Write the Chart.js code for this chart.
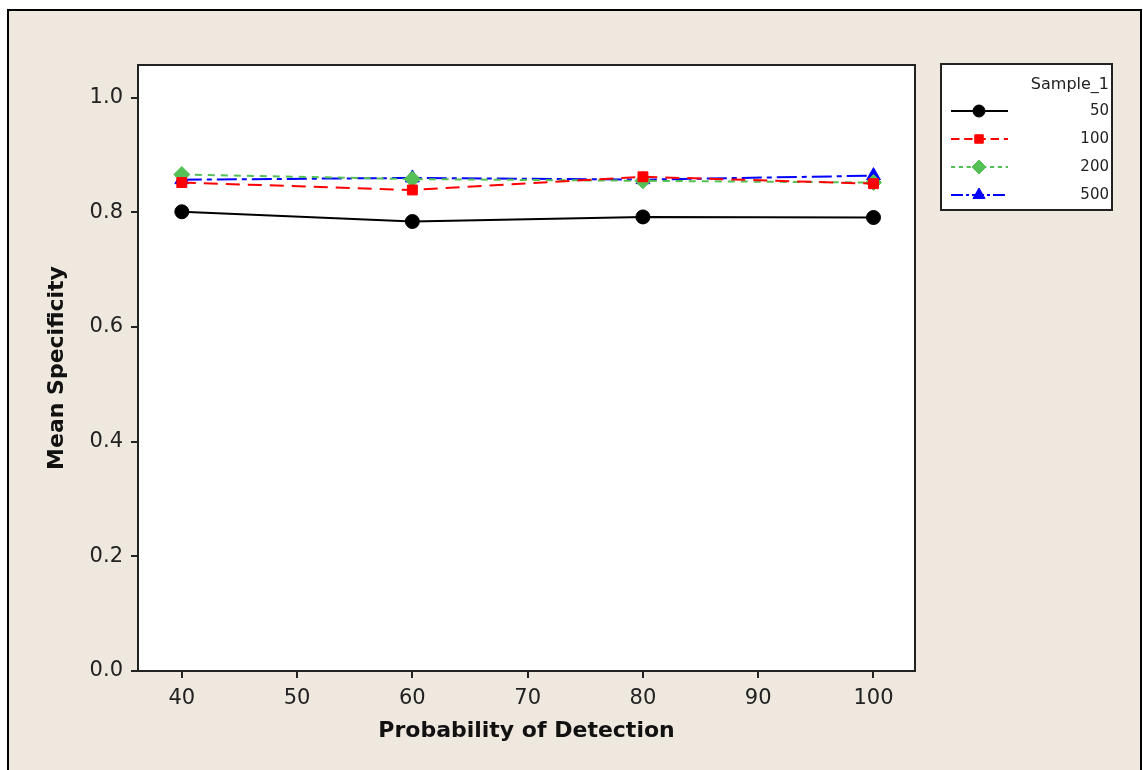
<!DOCTYPE html>
<html lang="en">
<head>
    <meta charset="UTF-8">
    <title>Mean Specificity</title>
    <script src="https://cdn.jsdelivr.net/npm/chart.js"></script>
    <style>
        html, body { margin: 0; padding: 0; background: #fff; }
        .janela { width: 1143px; height: 770px; }
    </style>
</head>
<body>
    <div class="janela">
        <canvas id="myChart"></canvas>
    </div>

<script>
    // dados
    var probabilidade = [40, 60, 80, 100];
    var amostras = ['50', '100', '200', '500'];
    var espec50 = [0.801, 0.784, 0.792, 0.791];
    var espec100 = [0.852, 0.839, 0.862, 0.850];
    var espec200 = [0.866, 0.858, 0.855, 0.852];
    var espec500 = [0.857, 0.860, 0.857, 0.864];
    var ticksX = [40, 50, 60, 70, 80, 90, 100];
    var ticksY = [0.0, 0.2, 0.4, 0.6, 0.8, 1.0];

    var cores = ['#000000', '#ff0000', '#55c055', '#0000ff'];
    var marcadores = ['circle', 'rect', 'rectRot', 'triangle'];
    var tracos = [[], [14, 8], [7, 6], [20, 5, 5, 5]];
    var raios = [7, 7, 8, 8];
    var series = [espec50, espec100, espec200, espec500];

    var bege = '#eee8df';

    function pontos(valores) {
        var p = [];
        for (var i = 0; i < probabilidade.length; i++) {
            p.push({ x: probabilidade[i], y: valores[i] });
        }
        return p;
    }

    var datasets = [];
    for (var i = 0; i < amostras.length; i++) {
        datasets.push({
            label: amostras[i],
            data: pontos(series[i]),
            borderColor: cores[i],
            backgroundColor: cores[i],
            borderWidth: 2,
            borderDash: tracos[i],
            pointStyle: marcadores[i],
            pointRadius: raios[i],
            pointBorderWidth: 1,
            fill: false,
            tension: 0
        });
    }

    // fundo, moldura e borda da area do grafico
    var moldura = {
        id: 'moldura',
        beforeDraw: function (chart) {
            var ctx = chart.ctx;
            var a = chart.chartArea;
            ctx.save();
            ctx.fillStyle = '#ffffff';
            ctx.fillRect(0, 0, chart.width, chart.height);
            ctx.fillStyle = bege;
            ctx.fillRect(9, 11, chart.width - 11, chart.height);
            ctx.strokeStyle = '#000';
            ctx.lineWidth = 2;
            ctx.strokeRect(8, 10, chart.width - 10, chart.height + 10);
            ctx.fillStyle = '#ffffff';
            ctx.fillRect(a.left, a.top, a.right - a.left, a.bottom - a.top);
            ctx.restore();
        },
        afterDraw: function (chart) {
            var ctx = chart.ctx;
            var a = chart.chartArea;
            ctx.save();
            ctx.strokeStyle = '#222';
            ctx.lineWidth = 2;
            ctx.strokeRect(a.left, a.top, a.right - a.left, a.bottom - a.top);

            // legenda no estilo do Minitab
            var lx = 941, ly = 64, lw = 171, lh = 146;
            ctx.fillStyle = '#fff';
            ctx.fillRect(lx, ly, lw, lh);
            ctx.strokeStyle = '#222';
            ctx.lineWidth = 2;
            ctx.strokeRect(lx, ly, lw, lh);
            ctx.fillStyle = '#222';
            ctx.textAlign = 'right';
            ctx.textBaseline = 'middle';
            ctx.font = '16px "DejaVu Sans"';
            ctx.fillText('Sample_1', 1109, 85);
            ctx.font = '15px "DejaVu Sans"';
            chart.data.datasets.forEach(function (ds, i) {
                var y = 111 + i * 28;
                ctx.strokeStyle = ds.borderColor;
                ctx.lineWidth = 2;
                ctx.setLineDash(ds.borderDash.length ? ds.borderDash.map(function (d) { return d * 0.6; }) : []);
                ctx.beginPath();
                ctx.moveTo(951, y);
                ctx.lineTo(1008, y);
                ctx.stroke();
                ctx.setLineDash([]);
                ctx.fillStyle = ds.backgroundColor;
                ctx.strokeStyle = ds.borderColor;
                ctx.lineWidth = 1;
                Chart.helpers.drawPoint(ctx, {
                    pointStyle: ds.pointStyle,
                    radius: ds.pointRadius - 1,
                    borderWidth: 1,
                    rotation: 0
                }, 979, y);
                ctx.fillStyle = '#222';
                ctx.fillText(ds.label, 1109, y);
            });
            ctx.restore();
        }
    };

    var ctx = document.getElementById('myChart');
    new Chart(ctx, {
        type: 'line',
        data: { datasets: datasets },
        options: {
            responsive: true,
            maintainAspectRatio: false,
            animation: false,
            layout: { padding: { top: 65, right: 228, left: 0, bottom: 0 } },
            plugins: {
                legend: { display: false },
                tooltip: { enabled: false }
            },
            scales: {
                x: {
                    type: 'linear',
                    min: 36.2,
                    max: 103.6,
                    afterBuildTicks: function (scale) {
                        scale.ticks = ticksX.map(function (v) { return { value: v }; });
                    },
                    afterFit: function (scale) { scale.height = 99; },
                    grid: { drawOnChartArea: false, drawTicks: true, tickLength: 7, color: '#222', lineWidth: 2 },
                    border: { display: false },
                    ticks: {
                        color: '#222',
                        padding: 8,
                        maxRotation: 0,
                        font: { family: 'DejaVu Sans', size: 21 }
                    },
                    title: {
                        display: true,
                        text: 'Probability of Detection',
                        color: '#111',
                        font: { family: 'DejaVu Sans', size: 22, weight: 'bold' },
                        padding: { top: 0, bottom: 26 }
                    }
                },
                y: {
                    min: 0,
                    max: 1.057,
                    afterBuildTicks: function (scale) {
                        scale.ticks = ticksY.map(function (v) { return { value: v }; });
                    },
                    afterFit: function (scale) { scale.width = 138; },
                    grid: { drawOnChartArea: false, drawTicks: true, tickLength: 7, color: '#222', lineWidth: 2 },
                    border: { display: false },
                    ticks: {
                        color: '#222',
                        padding: 8,
                        font: { family: 'DejaVu Sans', size: 21 },
                        callback: function (v) { return v.toFixed(1); }
                    },
                    title: {
                        display: true,
                        text: 'Mean Specificity',
                        color: '#111',
                        font: { family: 'DejaVu Sans', size: 22, weight: 'bold' },
                        padding: { top: 44, bottom: 0 }
                    }
                }
            }
        },
        plugins: [moldura]
    });
</script>
</body>
</html>
